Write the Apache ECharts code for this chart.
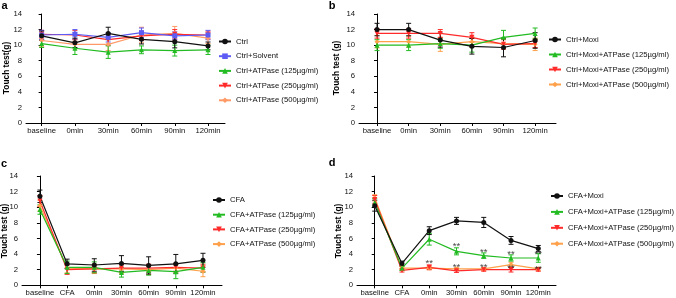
<!DOCTYPE html>
<html><head><meta charset="utf-8">
<script src="https://cdn.jsdelivr.net/npm/echarts@6/dist/echarts.min.js"></script>
<style>html,body{margin:0;padding:0;background:#fff}#c{width:676px;height:298px}</style>
</head><body><div id="c"></div>
<script>
// ---------- categories / ticks ----------
const catsTop = ['baseline','0min','30min','60min','90min','120min'];
const catsBottom = ['baseline','CFA','0min','30min','60min','90min','120min'];
const yTicks = [0,2,4,6,8,10,12,14];

// ---------- panel a ----------
const aNames = ['Ctrl','Ctrl+Solvent','Ctrl+ATPase (125µg/ml)','Ctrl+ATPase (250µg/ml)','Ctrl+ATPase (500µg/ml)'];
const aCtrl     = [11.2,10.3,11.5,10.75,10.45,9.9];
const aCtrlErr  = [0.6,0.6,0.8,0.6,0.8,0.5];
const aSolv     = [11.3,11.4,11.0,11.6,11.2,11.3];
const aSolvErr  = [0.6,0.6,0.6,0.6,0.5,0.6];
const a125      = [10.2,9.6,9.1,9.4,9.3,9.4];
const a125Err   = [0.5,0.8,0.8,0.5,0.7,0.6];
const a250      = [11.4,11.3,10.7,11.2,11.4,11.3];
const a250Err   = [0.5,0.6,0.7,0.6,0.6,0.5];
const a500      = [10.6,10.1,10.1,11.3,11.5,10.9];
const a500Err   = [0.8,0.6,0.8,1.0,0.9,0.7];

// ---------- panel b ----------
const bNames = ['Ctrl+Moxi','Ctrl+Moxi+ATPase (125µg/ml)','Ctrl+Moxi+ATPase (250µg/ml)','Ctrl+Moxi+ATPase (500µg/ml)'];
const bMoxi     = [12.0,12.0,10.65,9.85,9.7,10.6];
const bMoxiErr  = [0.8,0.8,0.9,1.0,1.2,1.0];
const b125      = [10.0,10.0,10.2,10.0,11.0,11.5];
const b125Err   = [0.7,0.7,0.6,0.9,0.9,0.7];
const b250      = [11.5,11.5,11.5,11.0,10.1,10.2];
const b250Err   = [0.6,0.6,0.5,0.6,0.6,0.5];
const b500      = [10.45,10.45,10.1,10.45,10.2,10.1];
const b500Err   = [0.8,0.7,0.9,0.7,0.7,0.8];

// ---------- panel c ----------
const cNames = ['CFA','CFA+ATPase (125µg/ml)','CFA+ATPase (250µg/ml)','CFA+ATPase (500µg/ml)'];
const cCFA      = [11.4,2.75,2.6,2.8,2.55,2.75,3.2];
const cCFAErr   = [0.8,0.6,0.8,1.0,1.1,1.2,0.9];
const c125      = [9.7,2.3,2.3,1.65,1.9,1.75,2.3];
const c125Err   = [0.6,0.8,0.7,0.6,0.6,0.9,0.6];
const c250      = [10.8,2.0,2.1,2.2,2.2,2.3,2.2];
const c250Err   = [0.7,0.6,0.5,0.5,0.5,0.5,0.5];
const c500      = [10.2,2.2,2.1,2.1,2.0,2.2,1.8];
const c500Err   = [0.7,0.6,0.6,0.6,0.6,0.6,0.7];

// ---------- panel d ----------
const dNames = ['CFA+Moxi','CFA+Moxi+ATPase (125µg/ml)','CFA+Moxi+ATPase (250µg/ml)','CFA+Moxi+ATPase (500µg/ml)'];
const dMoxi     = [10.2,2.8,7.0,8.25,8.05,5.75,4.7];
const dMoxiErr  = [0.7,0.3,0.5,0.45,0.65,0.5,0.4];
const d125      = [10.6,2.2,5.9,4.35,3.8,3.5,3.5];
const d125Err   = [0.5,0.3,0.75,0.45,0.35,0.4,0.55];
const d250      = [11.0,1.9,2.3,1.85,2.0,2.0,2.0];
const d250Err   = [0.5,0.2,0.3,0.2,0.2,0.3,0.2];
const d500      = [11.2,2.2,2.2,2.1,2.1,2.65,2.1];
const d500Err   = [0.4,0.2,0.2,0.2,0.2,0.3,0.2];
// significance marks (category index, y value)
const starCat = [2,3,3,4,4,5,5,6,6];
const starY   = [3.15,5.3,2.56,4.48,2.56,4.22,2.43,4.22,2.38];

// ---------- styling ----------
const FF = 'Liberation Sans, Arial, sans-serif';
const FS = 7.7;
const BLACK = '#111111', BLUE = '#5c5cf5', GREEN = '#22bb22', RED = '#ff2a2a', ORANGE_A = '#ff9a66', ORANGE = '#ffa04a';
const DOWN = 'path://M0,0 L10,0 L5,8.66 Z';

const chart = echarts.init(document.getElementById('c'), null, {renderer:'canvas'});

const grids = [
  {left:26, top:14, width:199, height:109},
  {left:359, top:14, width:197, height:109},
  {left:22, top:176, width:200, height:109.3},
  {left:357, top:176, width:199, height:109.3}
];
const xRanges = [[-0.47,5.51],[-0.57,5.66],[-0.66,6.7],[-0.65,6.65]];
const xCats = [catsTop, catsTop, catsBottom, catsBottom];

const xAxes = grids.map((g,gi)=>{
  const cats = xCats[gi];
  const idx = cats.map((c,i)=>i);
  return {type:'value', gridIndex:gi, min:xRanges[gi][0], max:xRanges[gi][1],
    axisLine:{show:true, onZero:false, lineStyle:{color:'#000', width:1}},
    axisTick:{show:true, length:3, customValues:idx, lineStyle:{color:'#000', width:1}},
    axisLabel:{show:true, customValues:idx, formatter:v=>cats[Math.round(v)], fontSize:FS, color:'#111', margin:4, fontFamily:FF},
    splitLine:{show:false}};
});
const yAxes = grids.map((g,gi)=>({type:'value', gridIndex:gi, min:yTicks[0], max:yTicks[yTicks.length-1], interval:2,
  axisLine:{show:true, lineStyle:{color:'#000', width:1}},
  axisTick:{show:true, length:3, lineStyle:{color:'#000', width:1}},
  axisLabel:{fontSize:FS, color:'#111', margin:4, fontFamily:FF},
  splitLine:{show:false}}));

function errRender(params, api){
  const x = api.value(0), lo = api.value(1), hi = api.value(2);
  const pLo = api.coord([x, lo]), pHi = api.coord([x, hi]);
  const w = 2.5;
  const st = {stroke: api.visual('color'), lineWidth: 1};
  return {type:'group', children:[
    {type:'line', shape:{x1:pLo[0],y1:pLo[1],x2:pHi[0],y2:pHi[1]}, style:st},
    {type:'line', shape:{x1:pLo[0]-w,y1:pLo[1],x2:pLo[0]+w,y2:pLo[1]}, style:st},
    {type:'line', shape:{x1:pHi[0]-w,y1:pHi[1],x2:pHi[0]+w,y2:pHi[1]}, style:st}
  ]};
}

const series = [];
function add(gi, name, vals, errs, color, symbol){
  series.push({type:'custom', xAxisIndex:gi, yAxisIndex:gi, renderItem:errRender,
    itemStyle:{color}, encode:{x:0, y:[1,2]},
    data: vals.map((v,i)=>[i, v-errs[i], v+errs[i]]), silent:true, z:2});
  series.push({type:'line', name, xAxisIndex:gi, yAxisIndex:gi, symbol, symbolSize:5,
    lineStyle:{color, width:1.2}, itemStyle:{color}, z:3,
    data: vals.map((v,i)=>[i, v])});
}
// draw later groups first so the first group ends up on top
add(0, aNames[4], a500, a500Err, ORANGE_A, 'diamond');
add(0, aNames[3], a250, a250Err, RED, DOWN);
add(0, aNames[2], a125, a125Err, GREEN, 'triangle');
add(0, aNames[1], aSolv, aSolvErr, BLUE, 'rect');
add(0, aNames[0], aCtrl, aCtrlErr, BLACK, 'circle');

add(1, bNames[3], b500, b500Err, ORANGE, 'diamond');
add(1, bNames[2], b250, b250Err, RED, DOWN);
add(1, bNames[1], b125, b125Err, GREEN, 'triangle');
add(1, bNames[0], bMoxi, bMoxiErr, BLACK, 'circle');

add(2, cNames[3], c500, c500Err, ORANGE, 'diamond');
add(2, cNames[2], c250, c250Err, RED, DOWN);
add(2, cNames[1], c125, c125Err, GREEN, 'triangle');
add(2, cNames[0], cCFA, cCFAErr, BLACK, 'circle');

add(3, dNames[3], d500, d500Err, ORANGE, 'diamond');
add(3, dNames[2], d250, d250Err, RED, DOWN);
add(3, dNames[1], d125, d125Err, GREEN, 'triangle');
add(3, dNames[0], dMoxi, dMoxiErr, BLACK, 'circle');

series.push({type:'scatter', xAxisIndex:3, yAxisIndex:3, symbolSize:0, silent:true, z:5,
  data: starCat.map((c,i)=>[c, starY[i]]),
  label:{show:true, formatter:'**', position:'inside', offset:[0,2.5], fontSize:9.5, color:'#111', fontFamily:FF}});

function legend(names, left, top, gap, iw){
  return {data:names, orient:'vertical', left, top, padding:0, itemWidth:iw||12, itemHeight:7, itemGap:gap,
    textStyle:{fontSize:FS, color:'#111', fontFamily:FF, lineHeight:7}, selectedMode:false};
}

function txt(x, y, text, opts){
  return Object.assign({type:'text', x, y, silent:true,
    style:Object.assign({text, fill:'#000', font:'bold 8.4px '+FF, textAlign:'center', textVerticalAlign:'middle'}, opts||{})});
}
const graphics = [
  txt(4.5, 6, 'a', {font:'bold 11px '+FF}),
  txt(332, 6, 'b', {font:'bold 11px '+FF}),
  txt(4, 164, 'c', {font:'bold 11px '+FF}),
  txt(332, 163, 'd', {font:'bold 11px '+FF}),
  Object.assign(txt(7, 68, 'Touch test(g)'), {rotation:Math.PI/2}),
  Object.assign(txt(336.5, 68, 'Touch test (g)'), {rotation:Math.PI/2}),
  Object.assign(txt(5, 231, 'Touch test (g)'), {rotation:Math.PI/2}),
  Object.assign(txt(338.5, 231, 'Touch test (g)'), {rotation:Math.PI/2})
];

chart.setOption({
  animation:false,
  backgroundColor:'#fff',
  grid: grids,
  xAxis: xAxes,
  yAxis: yAxes,
  legend: [
    legend(aNames, 218, 37.5, 6.7),
    legend(bNames, 548, 35.5, 7),
    legend(cNames, 212, 196, 6.7),
    legend(dNames, 550, 192, 7.9, 12)
  ],
  graphic: graphics,
  series
});
</script></body></html>
